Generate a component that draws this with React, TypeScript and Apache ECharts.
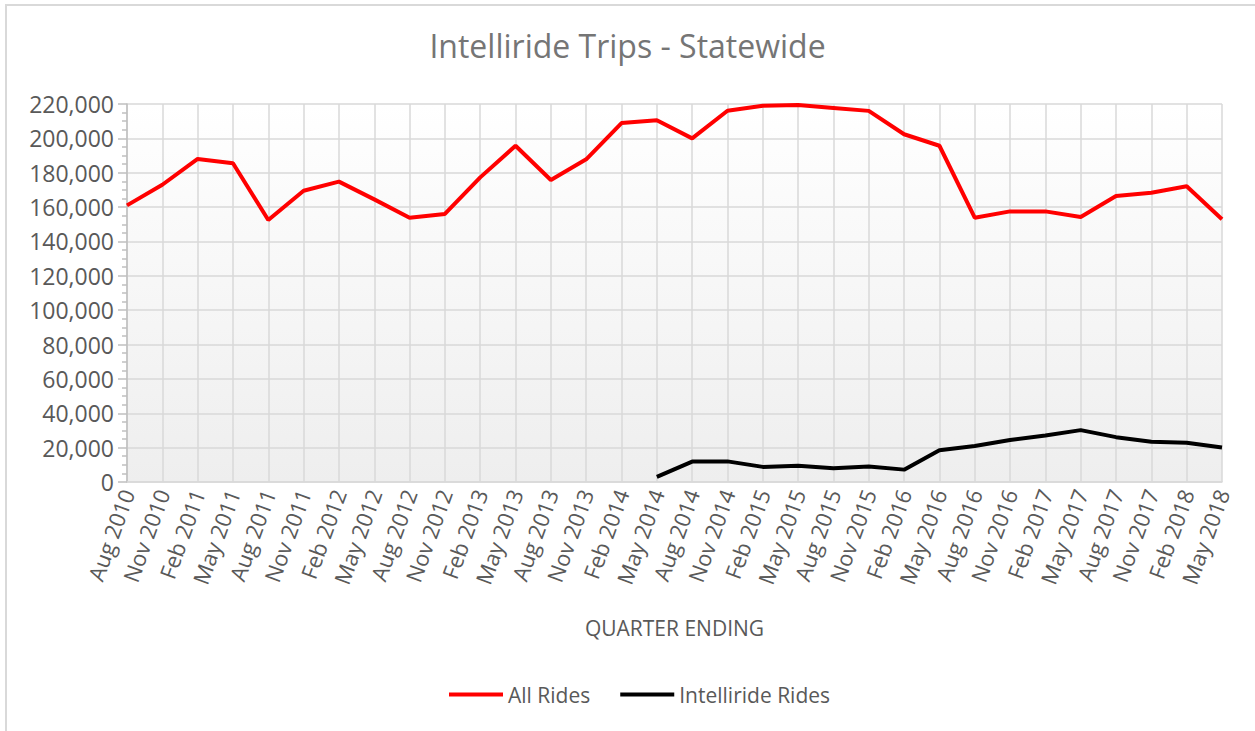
import React, { useEffect, useRef } from "react";
import * as echarts from "echarts";

const categories = [
  "Aug 2010", "Nov 2010", "Feb 2011", "May 2011", "Aug 2011", "Nov 2011",
  "Feb 2012", "May 2012", "Aug 2012", "Nov 2012", "Feb 2013", "May 2013",
  "Aug 2013", "Nov 2013", "Feb 2014", "May 2014", "Aug 2014", "Nov 2014",
  "Feb 2015", "May 2015", "Aug 2015", "Nov 2015", "Feb 2016", "May 2016",
  "Aug 2016", "Nov 2016", "Feb 2017", "May 2017", "Aug 2017", "Nov 2017",
  "Feb 2018", "May 2018",
];

const allRides = [
  161000, 173000, 188000, 185500, 152500, 169500, 174800, 164500, 153800,
  156000, 177300, 195700, 175800, 187800, 208900, 210500, 200000, 216100,
  219000, 219400, 217700, 216000, 202400, 195700, 153800, 157500, 157500,
  154200, 166500, 168400, 172100, 152900,
];

const intellirideRides = [
  null, null, null, null, null, null, null, null, null, null, null, null,
  null, null, null, 3000, 11900, 12000, 8800, 9400, 8000, 9000, 7200, 18500,
  20900, 24400, 27100, 30200, 26100, 23400, 22800, 20100,
];

const yTicks = { min: 0, max: 220000, interval: 20000 };

const FONT = "'Open Sans', sans-serif";
const TEXT = "#595959";
const GRIDLINE = "#d9d9d9";

export default function App() {
  const ref = useRef<HTMLDivElement>(null);

  useEffect(() => {
    document.body.style.margin = "0";
    const chart = echarts.init(ref.current!, null, { renderer: "svg" });
    chart.setOption({
      animation: false,
      backgroundColor: "#ffffff",
      textStyle: { fontFamily: FONT },
      graphic: [
        {
          type: "rect",
          shape: { x: 6, y: 5, width: 1300, height: 800 },
          style: { fill: "none", stroke: "#d9d9d9", lineWidth: 2 },
          silent: true,
        },
      ],
      title: {
        text: "Intelliride Trips - Statewide",
        left: "center",
        top: 24,
        textStyle: {
          fontFamily: FONT,
          fontSize: 32,
          fontWeight: "normal",
          color: "#757575",
        },
      },
      legend: {
        left: 444,
        top: 679,
        icon: "rect",
        itemWidth: 54,
        itemHeight: 4,
        itemGap: 30,
        textStyle: { fontFamily: FONT, fontSize: 21, color: TEXT },
        data: ["All Rides", "Intelliride Rides"],
      },
      grid: {
        left: 127,
        right: 33,
        top: 104,
        bottom: 249,
        show: true,
        borderWidth: 0,
        backgroundColor: new echarts.graphic.LinearGradient(0, 0, 0, 1, [
          { offset: 0, color: "#ffffff" },
          { offset: 1, color: "#eeeeee" },
        ]),
      },
      xAxis: {
        type: "category",
        data: categories,
        boundaryGap: false,
        name: "QUARTER ENDING",
        nameLocation: "middle",
        nameGap: 135,
        nameTextStyle: { fontFamily: FONT, fontSize: 21, color: TEXT },
        axisLine: { show: true, lineStyle: { color: GRIDLINE, width: 1.5 } },
        axisTick: { show: false },
        axisLabel: {
          rotate: 70,
          margin: 8,
          interval: 0,
          fontFamily: FONT,
          fontSize: 22,
          color: TEXT,
        },
        splitLine: { show: true, lineStyle: { color: GRIDLINE, width: 1.5 } },
      },
      yAxis: {
        type: "value",
        min: yTicks.min,
        max: yTicks.max,
        interval: yTicks.interval,
        axisLine: { show: true, lineStyle: { color: "#bfbfbf", width: 1.5 } },
        axisTick: { show: true, length: 9, lineStyle: { color: "#bfbfbf", width: 1.5 } },
        minorTick: { show: true, splitNumber: 4, length: 5, lineStyle: { color: "#bfbfbf", width: 1.5 } },
        axisLabel: {
          margin: 13,
          fontFamily: FONT,
          fontSize: 23,
          color: TEXT,
          formatter: (v: number) => v.toLocaleString("en-US"),
        },
        splitLine: { show: true, lineStyle: { color: GRIDLINE, width: 1.5 } },
      },
      series: [
        {
          name: "All Rides",
          type: "line",
          data: allRides,
          showSymbol: false,
          symbol: "none",
          lineStyle: { color: "#ff0000", width: 4 },
          itemStyle: { color: "#ff0000" },
        },
        {
          name: "Intelliride Rides",
          type: "line",
          data: intellirideRides,
          showSymbol: false,
          symbol: "none",
          connectNulls: false,
          lineStyle: { color: "#000000", width: 4 },
          itemStyle: { color: "#000000" },
        },
      ],
    });
    return () => chart.dispose();
  }, []);

  return <div ref={ref} style={{ width: 1255, height: 731 }} />;
}
